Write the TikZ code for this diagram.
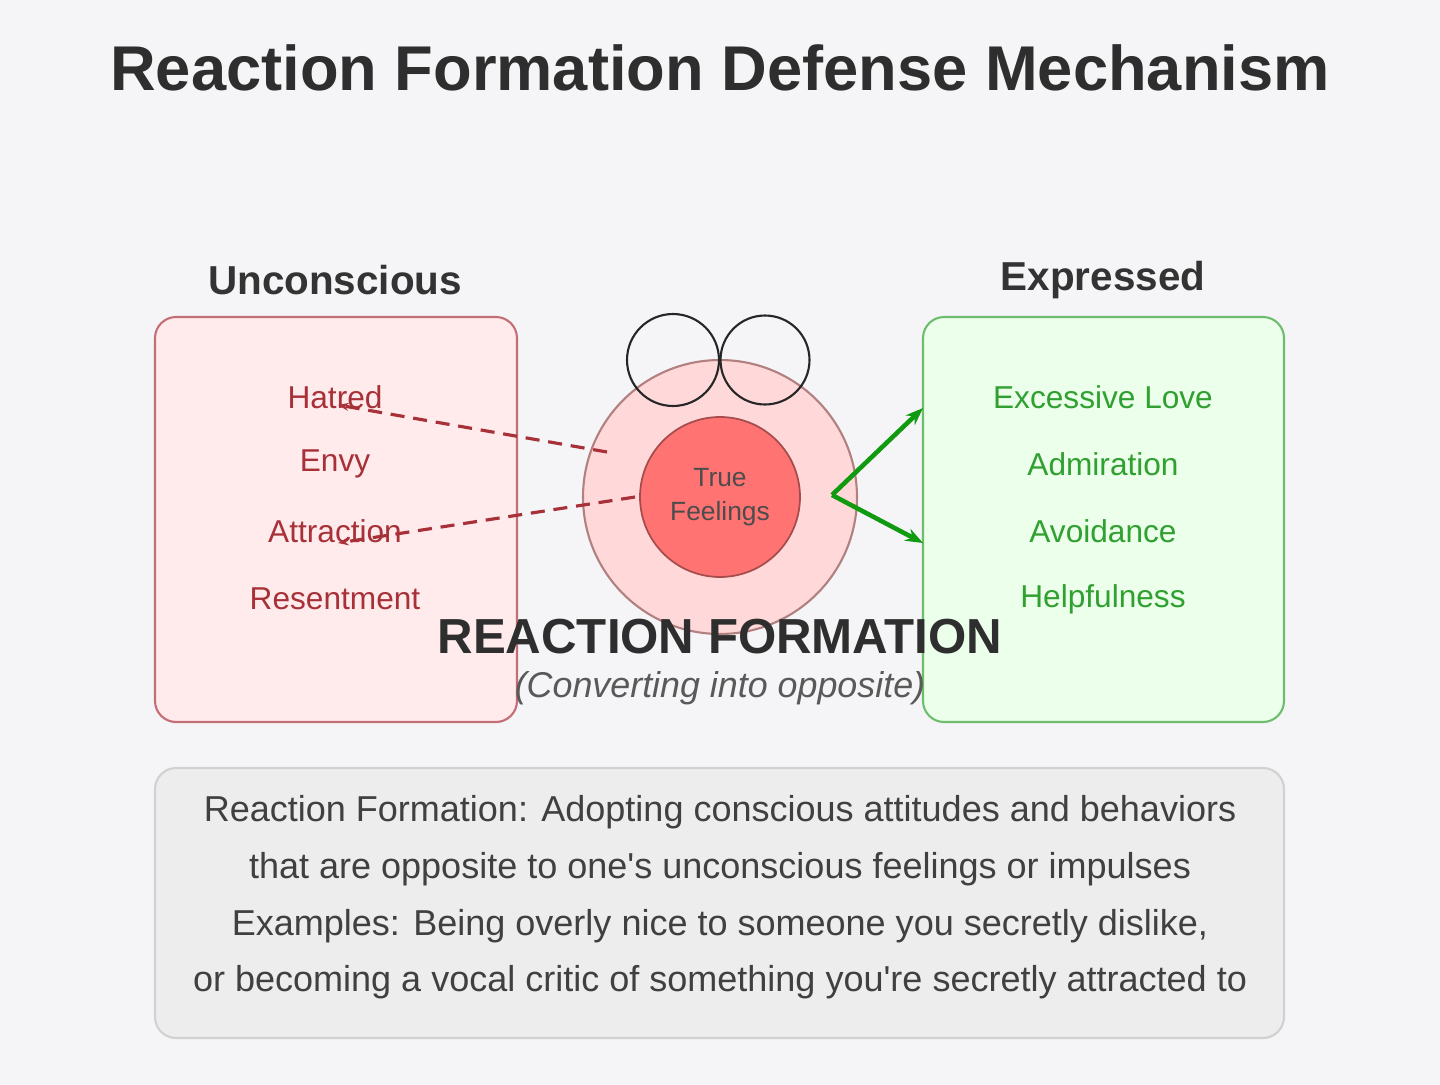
\documentclass[tikz,border=0pt]{standalone}
\usepackage{fontspec}
\setmainfont{Liberation Sans}
\usetikzlibrary{arrows.meta}
\definecolor{bgcol}{HTML}{F5F5F7}
\definecolor{hatecol}{HTML}{A83038}
\definecolor{lovecol}{HTML}{30A030}
\definecolor{arrowgreen}{HTML}{109A10}
\tikzset{
	item/.style={font=\fontsize{18}{22}\selectfont},
	panel/.style={rounded corners=12pt, line width=1.2pt},
	heading/.style={font=\bfseries\fontsize{23}{27}\selectfont, text=black!80},
	descline/.style={font=\fontsize{20.5}{24}\selectfont, text=black!75}
}
\begin{document}
\begin{tikzpicture}[x=0.02cm, y=-0.02cm]
	\fill[bgcol] (0,0) rectangle (1440,1085);
	\useasboundingbox (0,0) rectangle (1440,1085);
	
	\node[font=\bfseries\fontsize{36}{42}\selectfont, text=black!82] (title) at (720,68) {Reaction Formation Defense Mechanism};
	
	% panels
	\node[heading] (unconscious) at (335,280) {Unconscious};
	\node[heading] (expressed) at (1103,280) {Expressed};
	\draw[panel, draw=hatecol!70, fill=red!8] (155,317) rectangle (517,722);
	\draw[panel, draw=lovecol!70, fill=green!8] (923,317) rectangle (1284,722);
	
	\node[item, text=hatecol] (hatred) at (335,397) {Hatred};
	\node[item, text=hatecol] (envy) at (335,464) {Envy};
	\node[item, text=hatecol] (attraction) at (335,531) {Attraction};
	\node[item, text=hatecol] (resentment) at (335,599) {Resentment};
	
	\node[item, text=lovecol] (love) at (1103,397) {Excessive Love};
	\node[item, text=lovecol] (admiration) at (1103,464) {Admiration};
	\node[item, text=lovecol] (avoidance) at (1103,531) {Avoidance};
	\node[item, text=lovecol] (helpfulness) at (1103,599) {Helpfulness};
	
	% centre
	\node[circle, minimum size=5.48cm, draw=red!40!black!50, fill=red!15, line width=1.2pt] (outer) at (720,497) {};
	\node[circle, minimum size=3.2cm, draw=red!50!black!70, fill=red!55!white, line width=1pt, align=center, font=\fontsize{15}{19}\selectfont, text=black!70] (truefeel) at (720,497) {True\\Feelings};
	\node[circle, minimum size=1.84cm, draw=black!85, line width=1.2pt] (ringL) at (673,360) {};
	\node[circle, minimum size=1.78cm, draw=black!85, line width=1.2pt] (ringR) at (765,360) {};
	
	\coordinate (hateend) at (607,452);
	\coordinate (attrend) at (635,497);
	\draw[hatecol, line width=1.8pt, dash pattern=on 8pt off 5pt, -{Stealth[length=6pt]}] (hateend) -- (338,405);
	\draw[hatecol, line width=1.8pt, dash pattern=on 8pt off 5pt, -{Stealth[length=6pt]}] (attrend) -- (338,543);
	
	\coordinate (fork) at (832,495);
	\draw[arrowgreen, line width=2.6pt, -{Stealth[length=10pt]}] (fork) -- (923,408);
	\draw[arrowgreen, line width=2.6pt, -{Stealth[length=10pt]}] (fork) -- (923,543);
	
	\node[font=\bfseries\fontsize{28}{32}\selectfont, text=black!82] (rflabel) at (720,637) {REACTION FORMATION};
	\node[font=\itshape\fontsize{20.4}{24}\selectfont, text=black!65] (rfsub) at (720,688) {(Converting into opposite)};
	
	% description
	\draw[panel, draw=black!18, fill=black!7] (155,768) rectangle (1284,1038);
	\node[descline] (d1) at (720,812) {Reaction Formation: Adopting conscious attitudes and behaviors};
	\node[descline] (d2) at (720,869) {that are opposite to one\textquotesingle s unconscious feelings or impulses};
	\node[descline] (d3) at (720,926) {Examples: Being overly nice to someone you secretly dislike,};
	\node[descline] (d4) at (720,982) {or becoming a vocal critic of something you\textquotesingle re secretly attracted to};
\end{tikzpicture}
\end{document}
